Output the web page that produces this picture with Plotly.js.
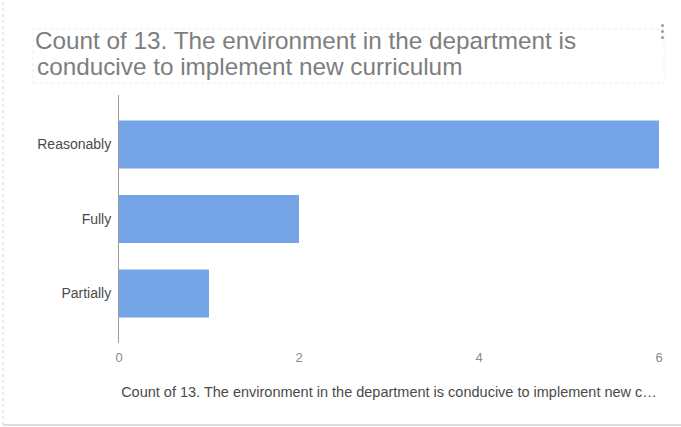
<!DOCTYPE html>
<html>
<head>
<meta charset="utf-8">
<script src="https://cdn.plot.ly/plotly-3.0.1.min.js"></script>
<style>
  html, body { margin: 0; padding: 0; background: #fff; }
  #chart { width: 681px; height: 427px; }
</style>
</head>
<body>
<div id="chart"></div>
<script>
// Data
const categories = ["Partially", "Fully", "Reasonably"];
const counts = [1, 2, 6];
const xTickValues = [0, 2, 4, 6];
const titleLine1 = "Count of 13. The environment in the department is";
const titleLine2 = "conducive to implement new curriculum";
const xAxisTitle = "Count of 13. The environment in the department is conducive to implement new c\u2026";

const FONT = "Liberation Sans, Arial, sans-serif";

const trace = {
  type: "bar",
  orientation: "h",
  y: categories,
  x: counts,
  width: 0.645,
  marker: { color: "#74a5e7", line: { width: 0 } },
  hoverinfo: "x+y"
};

const layout = {
  width: 681,
  height: 427,
  paper_bgcolor: "#ffffff",
  plot_bgcolor: "#ffffff",
  showlegend: false,
  margin: { l: 119, r: 22, t: 95, b: 84 },
  font: { family: FONT, size: 13, color: "#444" },
  title: {
    text: titleLine1,
    xref: "container", x: 35 / 681, xanchor: "left",
    yref: "container", y: 1 - 49 / 427, yanchor: "bottom",
    font: { family: FONT, size: 24.3, color: "#7e7e7e" },
    automargin: false
  },
  xaxis: {
    range: [0, 6],
    tickvals: xTickValues,
    ticktext: xTickValues.map(String),
    showgrid: false,
    zeroline: false,
    showline: false,
    ticks: "",
    ticklabelstandoff: 5,
    tickfont: { family: FONT, size: 13, color: "#8a8a8a" },
    title: {
      text: xAxisTitle,
      font: { family: FONT, size: 14.5, color: "#4a4a4a" },
      standoff: 22
    },
    fixedrange: true
  },
  yaxis: {
    type: "category",
    categoryorder: "array",
    categoryarray: categories,
    range: [-0.665, 2.665],
    showgrid: false,
    zeroline: false,
    showline: true,
    linecolor: "#9a9a9a",
    linewidth: 1,
    ticks: "",
    ticklabelstandoff: 4,
    tickfont: { family: FONT, size: 14, color: "#4a4a4a" },
    fixedrange: true
  },
  annotations: [
    {
      text: titleLine2,
      xref: "paper", yref: "paper",
      x: -84 / 540, xanchor: "left",
      y: 1 + (95 - 82) / 248, yanchor: "bottom",
      showarrow: false,
      font: { family: FONT, size: 24.3, color: "#7e7e7e" }
    }
  ],
  shapes: [
    // outer card border (left and bottom)
    { type: "line", xref: "paper", yref: "paper",
      x0: -116 / 540, x1: -116 / 540, y0: -82 / 248, y1: 1 + 95 / 248,
      line: { color: "#d6d6d6", width: 1, dash: "dot" } },
    { type: "line", xref: "paper", yref: "paper",
      x0: -116 / 540, x1: 1 + 22 / 540, y0: -82 / 248, y1: -82 / 248,
      line: { color: "#d0d0d0", width: 1.5 } },
    // faint dotted frame around the title
    { type: "rect", xref: "paper", yref: "paper",
      x0: -86 / 540, x1: 1 + 5 / 540, y0: 1 + 12 / 248, y1: 1 + 66 / 248,
      line: { color: "#ececec", width: 1, dash: "dot" } },
    // three-dot menu
    { type: "circle", xref: "paper", yref: "paper",
      x0: 1 + 2 / 540, x1: 1 + 5 / 540, y0: 1 + 68 / 248, y1: 1 + 71 / 248,
      fillcolor: "#9a9a9a", line: { width: 0 } },
    { type: "circle", xref: "paper", yref: "paper",
      x0: 1 + 2 / 540, x1: 1 + 5 / 540, y0: 1 + 62 / 248, y1: 1 + 65 / 248,
      fillcolor: "#9a9a9a", line: { width: 0 } },
    { type: "circle", xref: "paper", yref: "paper",
      x0: 1 + 2 / 540, x1: 1 + 5 / 540, y0: 1 + 56 / 248, y1: 1 + 59 / 248,
      fillcolor: "#9a9a9a", line: { width: 0 } }
  ]
};

Plotly.newPlot("chart", [trace], layout, { displayModeBar: false });
</script>
</body>
</html>
